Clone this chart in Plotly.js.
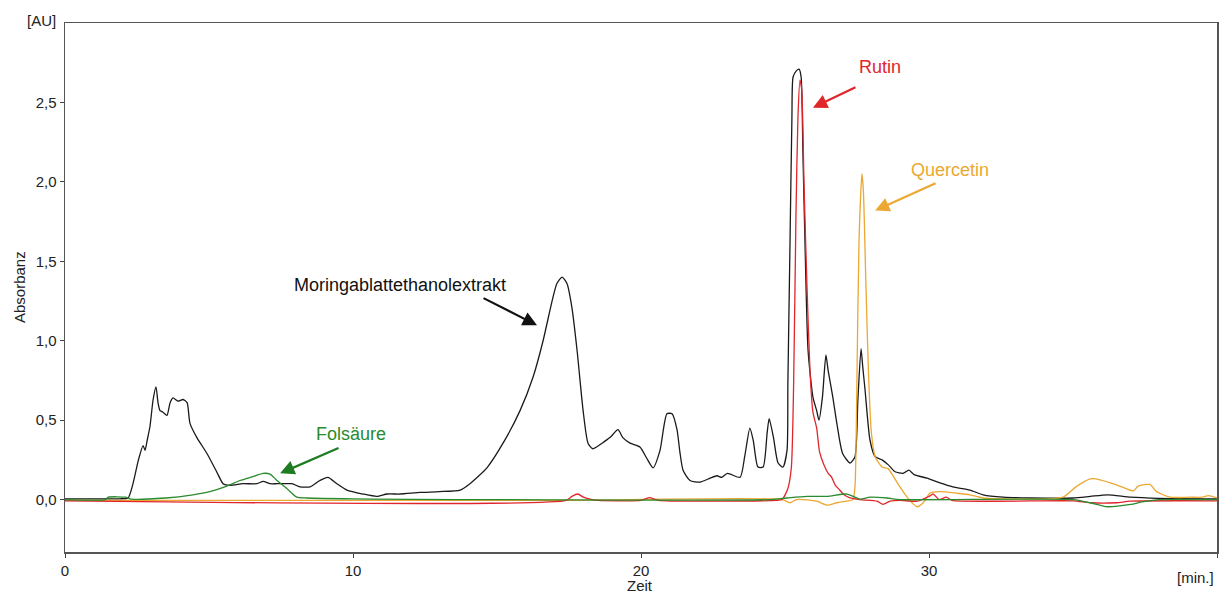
<!DOCTYPE html>
<html>
<head>
<meta charset="utf-8">
<script src="https://cdn.plot.ly/plotly-3.0.1.min.js"></script>
<style>html,body{margin:0;padding:0;background:#fff;}#chart{width:1219px;height:595px;}</style>
</head>
<body>
<div id="chart"></div>
<script>
// Moringablattethanolextrakt (black)
const extraktX = [0,1.0,1.9,2.19,2.36,2.55,2.71,2.78,2.85,2.95,3.06,3.16,3.23,3.30,3.40,3.54,3.65,3.75,3.92,4.10,4.24,4.34,4.58,4.93,5.28,5.49,5.73,6.18,6.67,6.88,7.12,7.36,7.6,7.88,8.16,8.51,8.85,9.13,9.44,9.79,10.35,10.83,11.18,11.63,12.33,13.0,13.72,14.06,14.65,15.21,15.80,16.25,16.6,16.9,17.08,17.26,17.43,17.6,17.78,17.99,18.16,18.33,18.65,18.92,19.2,19.37,19.62,19.97,20.2,20.42,20.66,20.9,21.08,21.25,21.35,21.46,21.7,22.05,22.4,22.64,22.8,23.0,23.44,23.6,23.78,23.9,24.06,24.24,24.38,24.45,24.6,24.76,24.93,25.07,25.1,25.17,25.24,25.28,25.4,25.49,25.56,25.62,25.7,25.8,25.97,26.1,26.18,26.3,26.42,26.5,26.66,26.8,27.0,27.26,27.43,27.53,27.64,27.7,27.78,27.95,28.13,28.37,28.58,28.82,29.1,29.3,29.5,29.93,30.38,30.83,31.42,31.88,32.57,33.5,35.0,35.6,36.2,37.0,38.0,40];
const extraktY = [0.005,0.005,0.005,0.01,0.10,0.25,0.34,0.31,0.37,0.46,0.63,0.71,0.61,0.56,0.55,0.53,0.61,0.64,0.62,0.63,0.61,0.48,0.39,0.29,0.17,0.10,0.09,0.10,0.10,0.115,0.10,0.10,0.10,0.10,0.08,0.08,0.12,0.14,0.10,0.06,0.035,0.02,0.035,0.035,0.045,0.05,0.06,0.10,0.20,0.355,0.56,0.77,1.0,1.24,1.36,1.40,1.36,1.21,0.94,0.56,0.355,0.32,0.355,0.39,0.44,0.39,0.355,0.33,0.26,0.20,0.31,0.54,0.54,0.44,0.30,0.185,0.12,0.11,0.135,0.15,0.14,0.165,0.14,0.27,0.45,0.37,0.205,0.205,0.42,0.51,0.39,0.23,0.205,0.31,0.73,1.57,2.40,2.66,2.70,2.71,2.66,2.20,1.57,0.94,0.645,0.56,0.50,0.645,0.91,0.81,0.645,0.48,0.29,0.23,0.27,0.625,0.95,0.835,0.69,0.375,0.27,0.25,0.22,0.175,0.165,0.185,0.155,0.135,0.105,0.08,0.06,0.03,0.015,0.01,0.01,0.02,0.03,0.015,0.008,0.005];

// Rutin (red)
const rutinX = [0,17.4,17.6,17.81,18.0,18.3,18.5,20.0,20.3,20.6,24.7,24.9,25.1,25.22,25.3,25.38,25.45,25.52,25.58,25.66,25.76,25.87,25.97,26.1,26.2,26.35,26.5,26.62,26.75,26.9,27.05,27.26,27.6,28.2,28.4,28.65,29.0,29.6,30.0,30.15,30.35,30.6,30.8,35.0,35.6,36.5,37.0,40];
const rutinY = [-0.008,-0.005,0.02,0.035,0.015,0.0,-0.005,-0.005,0.012,-0.005,-0.005,0.0,0.07,0.2,0.73,1.78,2.41,2.64,2.58,1.99,1.36,0.80,0.55,0.45,0.30,0.22,0.165,0.14,0.09,0.06,0.03,0.01,0.0,-0.01,-0.03,-0.01,-0.005,-0.01,0.02,0.035,0.0,0.015,-0.005,-0.008,-0.02,-0.02,-0.01,-0.008];

// Quercetin (orange)
const quercetinX = [0,17,24.9,25.17,25.4,26.1,26.46,26.8,27.15,27.36,27.43,27.5,27.57,27.67,27.72,27.8,27.9,28.0,28.13,28.37,28.58,28.9,29.24,29.58,29.8,30.03,30.38,30.97,31.42,31.88,34.65,35.1,35.6,35.8,36.3,36.7,37.1,37.26,37.67,37.9,38.37,39.06,39.5,39.7,40];
const quercetinY = [-0.005,-0.005,0.0,-0.02,0.0,-0.01,-0.035,-0.02,-0.01,0.0,0.08,0.79,1.63,2.05,1.95,1.42,0.79,0.42,0.27,0.205,0.195,0.105,0.015,-0.045,-0.02,0.04,0.05,0.04,0.03,0.01,0.015,0.08,0.13,0.13,0.105,0.08,0.055,0.085,0.095,0.05,0.015,0.015,0.015,0.025,0.01];

// Folsäure (green)
const folsaeureX = [0,1.4,1.5,2.1,2.3,3.5,4.44,5.03,5.62,6.08,6.53,6.88,7.12,7.36,7.7,8.05,8.4,10,24.5,25.07,25.76,26.46,27.15,27.6,27.95,28.54,29.0,35.0,35.6,36.2,37.0,37.4,38,40];
const folsaeureY = [0.0,0.0,0.015,0.015,0.003,0.01,0.03,0.05,0.085,0.12,0.145,0.165,0.16,0.12,0.07,0.015,0.01,0.005,0.0,0.01,0.02,0.02,0.035,0.003,0.015,0.01,0.0,0.0,-0.02,-0.045,-0.03,-0.015,0.0,0.0];

const xTickVals = [0,10,20,30,40];
const xTickText = ['0','10','20','30',''];
const yTickVals = [0,0.5,1.0,1.5,2.0,2.5];
const yTickText = ['0,0','0,5','1,0','1,5','2,0','2,5'];

const FONT = '"Liberation Sans", Arial, Helvetica, sans-serif';

function line(color){ return {color:color, width:1.3, shape:'spline', smoothing:0.6}; }

const traces = [
  {x: extraktX, y: extraktY, mode:'lines', line:line('#1a1a1a'), name:'Moringablattethanolextrakt'},
  {x: quercetinX, y: quercetinY, mode:'lines', line:line('#eba832'), name:'Quercetin'},
  {x: rutinX, y: rutinY, mode:'lines', line:line('#e0262b'), name:'Rutin'},
  {x: folsaeureX, y: folsaeureY, mode:'lines', line:line('#2a8a2e'), name:'Folsäure'}
];

function label(text, x, y, color){
  return {text:text, x:x, y:y, xref:'x', yref:'y', showarrow:false, font:{family:FONT, size:18, color:color}, xanchor:'center', yanchor:'middle'};
}
function arrow(tx, ty, hx, hy, color){
  return {text:'', x:hx, y:hy, ax:tx, ay:ty, xref:'x', yref:'y', axref:'x', ayref:'y', showarrow:true,
    arrowhead:2, arrowsize:1.3, arrowwidth:2.2, arrowcolor:color, standoff:0, startstandoff:0, font:{size:1}};
}

const annotations = [
  label('Moringablattethanolextrakt', 11.63, 1.349, '#111'),
  arrow(14.48, 1.273, 16.39, 1.097, '#111'),
  label('Folsäure', 9.93, 0.411, '#2a8a2e'),
  arrow(9.55, 0.329, 7.47, 0.165, '#1e7d22'),
  label('Rutin', 28.3, 2.72, '#e0262b'),
  arrow(27.5, 2.60, 25.97, 2.467, '#e0262b'),
  label('Quercetin', 30.73, 2.077, '#eba832'),
  arrow(30.28, 1.996, 28.13, 1.819, '#eba832'),
  {text:'[AU]', xref:'paper', yref:'paper', x:-0.006, y:1.004, xanchor:'right', yanchor:'middle', showarrow:false, font:{family:FONT, size:15, color:'#222'}},
  {text:'Absorbanz', xref:'paper', yref:'paper', x:-0.039, y:0.501, xanchor:'center', yanchor:'middle', textangle:-90, showarrow:false, font:{family:FONT, size:15, color:'#222'}},
  {text:'Zeit', xref:'paper', yref:'paper', x:0.499, y:-0.064, xanchor:'center', yanchor:'middle', showarrow:false, font:{family:FONT, size:15, color:'#222'}},
  {text:'[min.]', xref:'paper', yref:'paper', x:0.999, y:-0.049, xanchor:'right', yanchor:'middle', showarrow:false, font:{family:FONT, size:15, color:'#222'}}
];

const layout = {
  width:1219, height:595,
  margin:{l:65, r:2, t:23, b:43, pad:0},
  paper_bgcolor:'#fff', plot_bgcolor:'#fff',
  showlegend:false,
  font:{family:FONT, size:15, color:'#222'},
  xaxis:{range:[0,40], tickvals:xTickVals, ticktext:xTickText, ticks:'outside', ticklen:4, tickwidth:1, tickcolor:'#444',
    showline:true, linecolor:'#555', linewidth:1.5, mirror:true, showgrid:false, zeroline:false, fixedrange:true,
    tickfont:{family:FONT, size:15, color:'#222'}},
  yaxis:{range:[-0.33,3.0], tickvals:yTickVals, ticktext:yTickText, ticks:'outside', ticklen:4, tickwidth:1, tickcolor:'#444',
    showline:true, linecolor:'#555', linewidth:1.5, mirror:true, showgrid:false, zeroline:false, fixedrange:true,
    tickfont:{family:FONT, size:15, color:'#222'}, ticklabelstandoff:0},
  annotations:annotations
};

Plotly.newPlot('chart', traces, layout, {displayModeBar:false, staticPlot:true});
</script>
</body>
</html>
